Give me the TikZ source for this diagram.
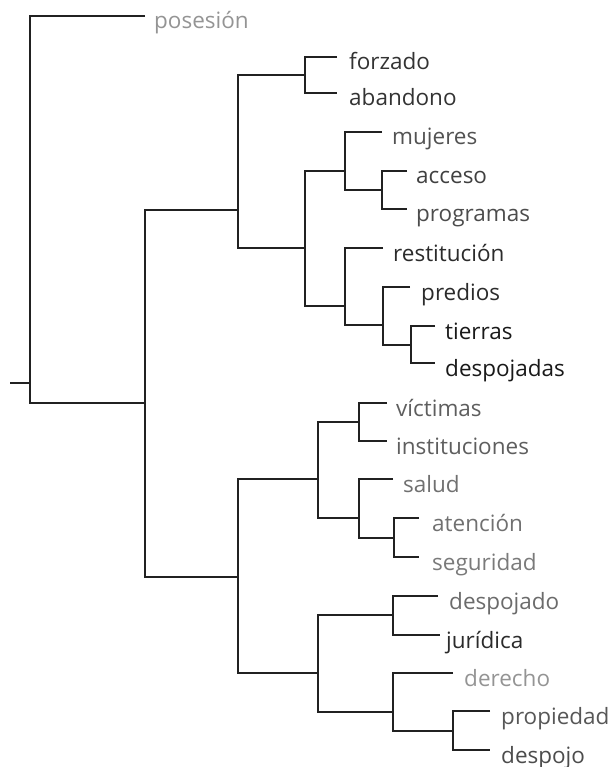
\documentclass[tikz,border=0pt]{standalone}
\usepackage{fontspec}
\setmainfont{Open Sans}
\usepackage{tikz}
\tikzstyle{branch}=[draw=black!87, line width=1.8pt]
\tikzstyle{leaf}=[anchor=base west, inner sep=0pt, yshift=-13pt,
font=\fontsize{22.5}{27}\selectfont]

\begin{document}
\begin{tikzpicture}[x=1pt, y=-1pt]
	\useasboundingbox (0,0) rectangle (614,767);

	% junctions
	\coordinate (stem) at (10,383);
	\coordinate (root) at (30,383);
	\coordinate (j1) at (145,403);
	\coordinate (j2) at (238,210);
	\coordinate (j3) at (305,75);
	\coordinate (j4) at (305,248);
	\coordinate (j5) at (345,171);
	\coordinate (j6) at (382,190);
	\coordinate (j7) at (345,306);
	\coordinate (j8) at (383,325);
	\coordinate (j9) at (411,345);
	\coordinate (j10) at (238,577);
	\coordinate (j11) at (318,479);
	\coordinate (j12) at (359,422);
	\coordinate (j13) at (359,518);
	\coordinate (j14) at (394,538);
	\coordinate (j15) at (318,673);
	\coordinate (j16) at (393,615);
	\coordinate (j17) at (393,712);
	\coordinate (j18) at (453,731);

	% leaf ends
	\coordinate (posesion-tip) at (145,16);
	\coordinate (forzado-tip) at (337,57);
	\coordinate (abandono-tip) at (337,93);
	\coordinate (mujeres-tip) at (382,132);
	\coordinate (acceso-tip) at (407,171);
	\coordinate (programas-tip) at (407,209);
	\coordinate (restitucion-tip) at (383,248);
	\coordinate (predios-tip) at (410,287);
	\coordinate (tierras-tip) at (435,326);
	\coordinate (despojadas-tip) at (435,363);
	\coordinate (victimas-tip) at (387,403);
	\coordinate (instituciones-tip) at (387,441);
	\coordinate (salud-tip) at (393,479);
	\coordinate (atencion-tip) at (419,518);
	\coordinate (seguridad-tip) at (419,557);
	\coordinate (despojado-tip) at (438,596);
	\coordinate (juridica-tip) at (440,635);
	\coordinate (derecho-tip) at (453,673);
	\coordinate (propiedad-tip) at (490,711);
	\coordinate (despojo-tip) at (490,750);

	% labels
	\node[leaf, text=black!42] (posesion) at (154,16) {posesión};
	\node[leaf, text=black!80] (forzado) at (349,57) {forzado};
	\node[leaf, text=black!80] (abandono) at (349,93) {abandono};
	\node[leaf, text=black!68] (mujeres) at (392,132) {mujeres};
	\node[leaf, text=black!75] (acceso) at (416,171) {acceso};
	\node[leaf, text=black!70] (programas) at (416,209) {programas};
	\node[leaf, text=black!83] (restitucion) at (393,248) {restitución};
	\node[leaf, text=black!83] (predios) at (421,287) {predios};
	\node[leaf, text=black!90] (tierras) at (445,326) {tierras};
	\node[leaf, text=black!90] (despojadas) at (445,363) {despojadas};
	\node[leaf, text=black!63] (victimas) at (396,403) {víctimas};
	\node[leaf, text=black!63] (instituciones) at (396,441) {instituciones};
	\node[leaf, text=black!56] (salud) at (403,479) {salud};
	\node[leaf, text=black!56] (atencion) at (432,518) {atención};
	\node[leaf, text=black!52] (seguridad) at (432,557) {seguridad};
	\node[leaf, text=black!58] (despojado) at (449,596) {despojado};
	\node[leaf, text=black!83] (juridica) at (446,635) {jurídica};
	\node[leaf, text=black!42] (derecho) at (464,673) {derecho};
	\node[leaf, text=black!66] (propiedad) at (501,711) {propiedad};
	\node[leaf, text=black!70] (despojo) at (501,750) {despojo};

	% branches
	\draw[branch] (stem) -- (root);
	\draw[branch] (posesion-tip) -| (root) |- (j1);
	\draw[branch] (j2) -| (j1) |- (j10);
	\draw[branch] (j3) -| (j2) |- (j4);
	\draw[branch] (forzado-tip) -| (j3) |- (abandono-tip);
	\draw[branch] (j5) -| (j4) |- (j7);
	\draw[branch] (mujeres-tip) -| (j5) |- (j6);
	\draw[branch] (acceso-tip) -| (j6) |- (programas-tip);
	\draw[branch] (restitucion-tip) -| (j7) |- (j8);
	\draw[branch] (predios-tip) -| (j8) |- (j9);
	\draw[branch] (tierras-tip) -| (j9) |- (despojadas-tip);
	\draw[branch] (j11) -| (j10) |- (j15);
	\draw[branch] (j12) -| (j11) |- (j13);
	\draw[branch] (victimas-tip) -| (j12) |- (instituciones-tip);
	\draw[branch] (salud-tip) -| (j13) |- (j14);
	\draw[branch] (atencion-tip) -| (j14) |- (seguridad-tip);
	\draw[branch] (j16) -| (j15) |- (j17);
	\draw[branch] (despojado-tip) -| (j16) |- (juridica-tip);
	\draw[branch] (derecho-tip) -| (j17) |- (j18);
	\draw[branch] (propiedad-tip) -| (j18) |- (despojo-tip);
\end{tikzpicture}
\end{document}
